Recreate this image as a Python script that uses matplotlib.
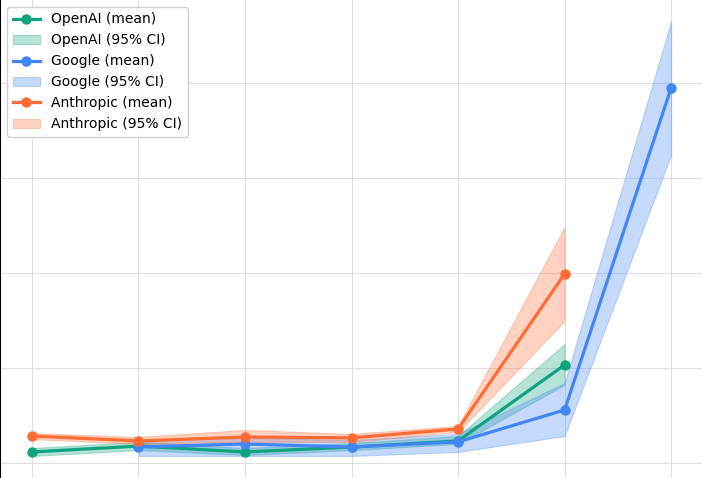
import matplotlib
matplotlib.use('Agg')
import matplotlib.pyplot as plt

# ── Data (arbitrary y units) ───────────────────────────────────────────────────
openai_x    = [0, 1, 2, 3, 4, 5]
openai_mean = [0.058, 0.089, 0.058, 0.084, 0.116, 0.516]
openai_lo   = [0.037, 0.068, 0.042, 0.068, 0.100, 0.411]
openai_hi   = [0.079, 0.111, 0.079, 0.105, 0.142, 0.626]

google_x    = [1, 2, 3, 4, 5, 6]
google_mean = [0.084, 0.100, 0.084, 0.111, 0.279, 1.974]
google_lo   = [0.037, 0.037, 0.037, 0.058, 0.142, 1.621]
google_hi   = [0.121, 0.132, 0.121, 0.153, 0.421, 2.326]

anthropic_x    = [0, 1, 2, 3, 4, 5]
anthropic_mean = [0.142, 0.116, 0.137, 0.132, 0.179, 0.995]
anthropic_lo   = [0.126, 0.100, 0.111, 0.111, 0.163, 0.747]
anthropic_hi   = [0.158, 0.137, 0.174, 0.153, 0.195, 1.242]

GREEN  = "#10a37f"
BLUE   = "#4285f4"
ORANGE = "#ff6b35"

series = [
    ("OpenAI", openai_x, openai_mean, openai_lo, openai_hi, GREEN),
    ("Google", google_x, google_mean, google_lo, google_hi, BLUE),
    ("Anthropic", anthropic_x, anthropic_mean, anthropic_lo, anthropic_hi, ORANGE),
]

fig = plt.figure(figsize=(7.02, 4.78), dpi=100)
ax = fig.add_axes([0, 0, 1, 1])

for name, xs, mean, lo, hi, col in series:
    ax.plot(xs, mean, color=col, linewidth=2.3, marker="o", markersize=6.5,
            label=f"{name} (mean)", zorder=3)
    ax.fill_between(xs, lo, hi, color=col, alpha=0.3, linewidth=0.8,
                    label=f"{name} (95% CI)", zorder=2)

ax.set_xlim(-0.30, 6.29)
ax.set_ylim(-0.079, 2.437)
ax.set_xticks(range(7))
ax.set_yticks([0, 0.5, 1.0, 1.5, 2.0])
ax.tick_params(length=0, labelbottom=False, labelleft=False)
ax.grid(color="#dddddd", linewidth=0.8, alpha=0.9)
ax.set_axisbelow(True)
for side in ("top", "right", "bottom"):
    ax.spines[side].set_visible(False)
ax.spines["left"].set_color("black")
ax.spines["left"].set_linewidth(1.5)

ax.legend(loc="upper left", fontsize=10, framealpha=0.9, edgecolor="#cccccc",
          bbox_to_anchor=(0.0, 1.0))

plt.savefig("out.png", dpi=100, facecolor="white")
plt.close()
